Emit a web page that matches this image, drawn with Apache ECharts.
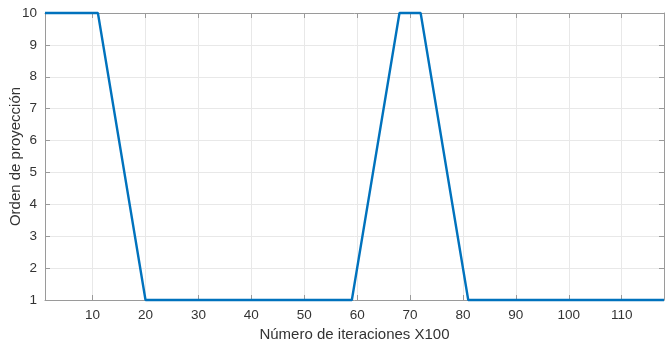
<!DOCTYPE html>
<html lang="es">
<head>
    <meta charset="UTF-8">
    <title>Orden de proyección</title>
    <script src="https://cdnjs.cloudflare.com/ajax/libs/echarts/6.0.0/echarts.min.js"></script>
    <style>
        html, body { margin: 0; padding: 0; background: #fff; }
    </style>
</head>
<body>
    <div id="main" style="width: 665px;height:347px;"></div>
    <script>
        // iteraciones (x100) y orden de proyeccion
        const iterX = [1, 11, 20, 59, 68, 72, 81, 118];
        const orden = [10, 10, 1, 1, 10, 10, 1, 1];
        const xTicks = [10, 20, 30, 40, 50, 60, 70, 80, 90, 100, 110];
        const yTicks = [1, 2, 3, 4, 5, 6, 7, 8, 9, 10];

        const myChart = echarts.init(document.getElementById('main'));
        const font = 'Liberation Sans, Arial, sans-serif';
        const frame = '#9a9a9a';
        const gridCol = '#e8e8e8';

        let option = {
            animation: false,
            grid: { left: 45, right: 1, top: 13, bottom: 47, containLabel: false, outerBoundsMode: 'none' },
            xAxis: [
                {
                    type: 'value', min: 1, max: 118, position: 'bottom',
                    name: 'Número de iteraciones X100',
                    nameLocation: 'middle', nameGap: 25,
                    nameTextStyle: { fontFamily: font, fontSize: 15, color: '#333' },
                    axisLine: { lineStyle: { color: frame } },
                    axisTick: { inside: true, length: 5, customValues: xTicks, lineStyle: { color: frame } },
                    axisLabel: { customValues: xTicks, fontFamily: font, fontSize: 13.5, color: '#333', margin: 8 },
                    splitLine: { show: true, lineStyle: { color: gridCol } }
                },
                {
                    type: 'value', min: 1, max: 118, position: 'top',
                    axisLine: { lineStyle: { color: frame } },
                    axisTick: { inside: true, length: 5, customValues: xTicks, lineStyle: { color: frame } },
                    axisLabel: { show: false },
                    splitLine: { show: false }
                }
            ],
            yAxis: [
                {
                    type: 'value', min: 1, max: 10, interval: 1, position: 'left',
                    name: 'Orden de proyección',
                    nameLocation: 'middle', nameGap: 22, nameMoveOverlap: false,
                    nameTextStyle: { fontFamily: font, fontSize: 15, color: '#333' },
                    axisLine: { show: true, lineStyle: { color: frame } },
                    axisTick: { show: true, inside: true, length: 5, lineStyle: { color: frame } },
                    axisLabel: { fontFamily: font, fontSize: 13.5, color: '#333', margin: 8 },
                    splitLine: { show: true, lineStyle: { color: gridCol } }
                },
                {
                    type: 'value', min: 1, max: 10, interval: 1, position: 'right',
                    axisLine: { show: true, lineStyle: { color: frame } },
                    axisTick: { show: true, inside: true, length: 5, lineStyle: { color: frame } },
                    axisLabel: { show: false },
                    splitLine: { show: false }
                }
            ],
            series: [
                {
                    type: 'line',
                    data: iterX.map((x, i) => [x, orden[i]]),
                    showSymbol: false,
                    clip: false,
                    lineStyle: { color: '#0072BD', width: 2.4 }
                }
            ]
        };

        myChart.setOption(option);
    </script>
</body>
</html>
